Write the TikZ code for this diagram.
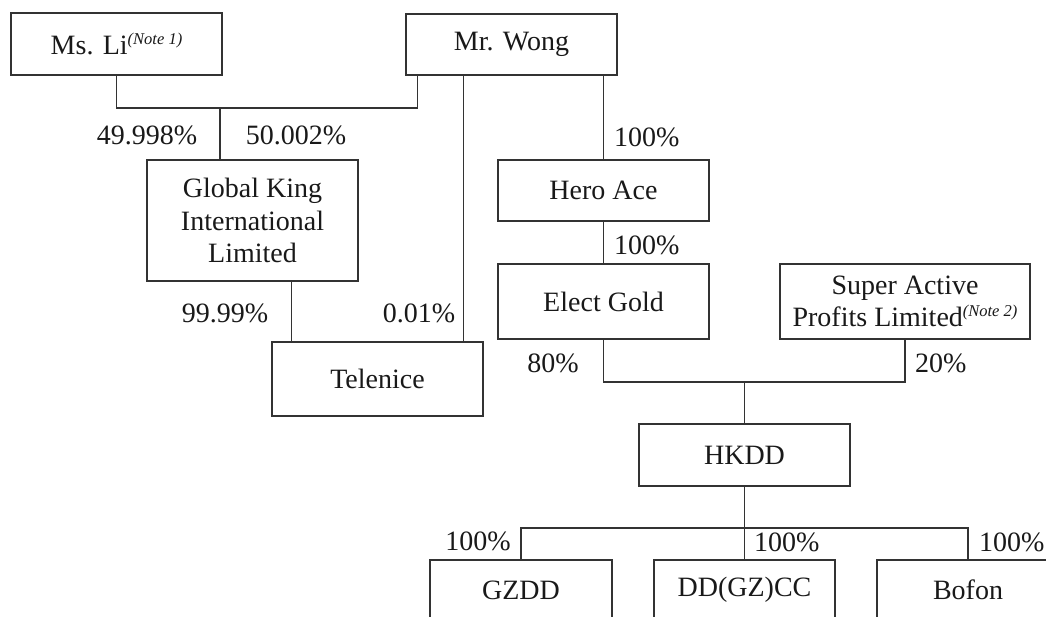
\documentclass[tikz,border=0pt]{standalone}
\usepackage{fontspec}
\setmainfont{Liberation Serif}
\newcommand{\notemark}[1]{\raisebox{10pt}{\fontsize{16.5}{16.5}\selectfont\itshape(Note~#1)}}
\begin{document}
\begin{tikzpicture}[x=1pt,y=-1pt,
	box/.style={draw=black!80,line width=1.2pt,text=black!90,inner sep=0pt,
		align=center,font=\fontsize{28}{32.5}\selectfont},
	pct/.style={text=black!90,inner sep=0pt,font=\fontsize{28}{32}\selectfont},
	link/.style={draw=black!80,line width=1.2pt}]
	
	\useasboundingbox (0,0) rectangle (1046,616);
	
	% owners
	\node[box,minimum width=211pt,minimum height=62pt] (li) at (116.5,44) {Ms. Li\notemark{1}};
	\node[box,minimum width=211pt,minimum height=61pt] (wong) at (511.5,44.5) {Mr. Wong};
	
	% holding companies
	\node[box,minimum width=211pt,minimum height=121pt] (gk) at (252.5,220.5) {Global King\\International\\Limited};
	\node[box,minimum width=211pt,minimum height=61pt] (hero) at (603.5,190.5) {Hero Ace};
	\node[box,minimum width=211pt,minimum height=75pt] (elect) at (603.5,301.5) {Elect Gold};
	\node[box,minimum width=250pt,minimum height=75pt] (sap) at (905,301.5) {Super Active\\Profits Limited\notemark{2}};
	\node[box,minimum width=211pt,minimum height=74pt] (tel) at (377.5,379) {Telenice};
	\node[box,minimum width=211pt,minimum height=62pt] (hkdd) at (744.5,455) {HKDD};
	
	% subsidiaries (cut by the page edge)
	\node[box,minimum width=182pt,minimum height=60pt] (gzdd) at (521,590) {GZDD};
	\node[box,minimum width=181pt,minimum height=60pt] (ddgz) at (744.5,590) {DD(GZ)CC};
	\node[box,minimum width=182pt,minimum height=60pt] (bofon) at (968,590) {Bofon};
	
	% Ms. Li and Mr. Wong -> Global King
	\coordinate (split) at (220,108);
	\draw[link] (li.south) |- (split) -| ([xshift=12pt]wong.south west);
	\draw[link] (split) -- (split |- gk.north);
	\node[pct] at (147,135) {49.998\%};
	\node[pct] at (296,135) {50.002\%};
	
	% Telenice
	\coordinate (telA) at ([xshift=20pt]tel.north west);
	\coordinate (telB) at ([xshift=-20pt]tel.north east);
	\draw[link] (telA) -- (telA |- gk.south);
	\draw[link] (telB) -- (telB |- wong.south);
	\node[pct] at (225,313) {99.99\%};
	\node[pct] at (419,313) {0.01\%};
	
	% Hero Ace and Elect Gold
	\draw[link] (wong.south -| hero.north) -- (hero.north);
	\draw[link] (hero.south) -- (elect.north);
	\node[pct,anchor=west] at (614,137) {100\%};
	\node[pct,anchor=west] at (614,245) {100\%};
	
	% Elect Gold and Super Active -> HKDD
	\coordinate (join) at (744.5,382);
	\draw[link] (elect.south) |- (join) -| (sap.south);
	\draw[link] (join) -- (hkdd.north);
	\node[pct] at (553,363) {80\%};
	\node[pct,anchor=west] at (915,363) {20\%};
	
	% HKDD -> subsidiaries
	\coordinate (bar) at (744.5,528);
	\draw[link] (gzdd.north) |- (bar) -| (bofon.north);
	\draw[link] (hkdd.south) -- (ddgz.north);
	\node[pct] at (478,541) {100\%};
	\node[pct,anchor=west] at (754,542) {100\%};
	\node[pct,anchor=west] at (979,542) {100\%};
	
\end{tikzpicture}
\end{document}
